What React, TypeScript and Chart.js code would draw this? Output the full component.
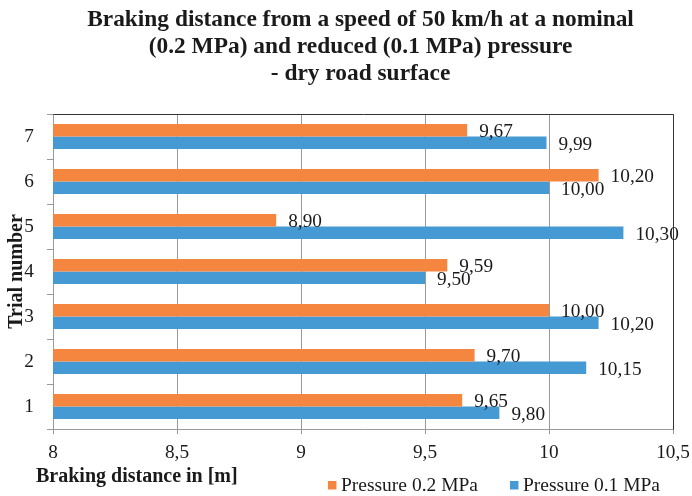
import React, { useEffect, useRef } from 'react';
import { Chart, registerables } from 'chart.js';

Chart.register(...registerables);

const TITLE_LINES = [
  'Braking distance from a speed of 50 km/h at a nominal',
  '(0.2 MPa) and reduced (0.1 MPa) pressure',
  '- dry road surface',
];
const TRIALS = ['1', '2', '3', '4', '5', '6', '7'];
const PRESSURE_02 = [9.65, 9.7, 10.0, 9.59, 8.9, 10.2, 9.67];
const PRESSURE_01 = [9.8, 10.15, 10.2, 9.5, 10.3, 10.0, 9.99];
const SERIES_NAMES = ['Pressure 0.2 MPa', 'Pressure 0.1 MPa'];
const X_TICKS = [8, 8.5, 9, 9.5, 10, 10.5];
const X_TITLE = 'Braking distance in [m]';
const Y_TITLE = 'Trial number';

const ORANGE = '#F4863F';
const BLUE = '#459AD4';
const SERIF = "'Liberation Serif', 'Times New Roman', serif";
const TEXT = '#1a1a1a';
const GRID = '#9a9a9a';

const fmt = (v: number, d: number) => v.toFixed(d).replace('.', ',');

const titlePlugin = {
  id: 'customTitle',
  afterDraw(chart: any) {
    const ctx = chart.ctx;
    ctx.save();
    ctx.font = `bold 23.4px ${SERIF}`;
    ctx.fillStyle = TEXT;
    ctx.textAlign = 'center';
    ctx.textBaseline = 'alphabetic';
    const cx = 360.5;
    TITLE_LINES.forEach((line, i) => {
      ctx.fillText(line, cx, 26 + i * 27);
    });
    ctx.restore();
  },
};

const framePlugin = {
  id: 'frame',
  afterDatasetsDraw(chart: any) {
    const ctx = chart.ctx;
    const ca = chart.chartArea;
    ctx.save();
    ctx.strokeStyle = '#333';
    ctx.lineWidth = 1;
    ctx.beginPath();
    ctx.moveTo(Math.round(ca.left) + 0.5, Math.round(ca.top) + 0.5);
    ctx.lineTo(Math.round(ca.right) + 0.5, Math.round(ca.top) + 0.5);
    ctx.lineTo(Math.round(ca.right) + 0.5, Math.round(ca.bottom) + 0.5);
    ctx.stroke();
    ctx.restore();
  },
};

const valueLabelPlugin = {
  id: 'valueLabels',
  afterDatasetsDraw(chart: any) {
    const ctx = chart.ctx;
    ctx.save();
    ctx.font = `19.3px ${SERIF}`;
    ctx.fillStyle = TEXT;
    ctx.textAlign = 'left';
    ctx.textBaseline = 'middle';
    chart.data.datasets.forEach((ds: any, di: number) => {
      const meta = chart.getDatasetMeta(di);
      meta.data.forEach((el: any, i: number) => {
        const v = ds.data[i] as number;
        ctx.fillText(fmt(v, 2), el.x + 12, el.y + 2);
      });
    });
    ctx.restore();
  },
};

const bottomPlugin = {
  id: 'bottomRow',
  afterDraw(chart: any) {
    const ctx = chart.ctx;
    const ca = chart.chartArea;
    ctx.save();
    // x-axis title
    ctx.font = `bold 20px ${SERIF}`;
    ctx.fillStyle = TEXT;
    ctx.textAlign = 'left';
    ctx.textBaseline = 'alphabetic';
    ctx.fillText(X_TITLE, ca.left - 17, 482);
    // legend
    ctx.font = `19.5px ${SERIF}`;
    const colors = chart.data.datasets.map((d: any) => d.backgroundColor);
    const names = chart.data.datasets.map((d: any) => d.label);
    const widths = names.map((n: string) => ctx.measureText(n).width);
    const box = 8.5;
    const gap = 4.5;
    const itemGap = 32;
    const total = widths.reduce((a: number, w: number) => a + box + gap + w, 0) + itemGap * (names.length - 1);
    let x = 660 - total;
    const base = 490.5;
    names.forEach((n: string, i: number) => {
      ctx.fillStyle = colors[i];
      ctx.fillRect(x, base - 9.5, box, box);
      ctx.fillStyle = TEXT;
      ctx.fillText(n, x + box + gap, base);
      x += box + gap + widths[i] + itemGap;
    });
    ctx.restore();
  },
};

export default function App() {
  const ref = useRef<HTMLCanvasElement | null>(null);

  useEffect(() => {
    if (!ref.current) return;
    const labels = [...TRIALS].reverse();
    const chart = new Chart(ref.current, {
      type: 'bar',
      data: {
        labels,
        datasets: [
          {
            label: SERIES_NAMES[0],
            data: [...PRESSURE_02].reverse(),
            backgroundColor: ORANGE,
            categoryPercentage: 0.56,
            barPercentage: 1,
          },
          {
            label: SERIES_NAMES[1],
            data: [...PRESSURE_01].reverse(),
            backgroundColor: BLUE,
            categoryPercentage: 0.56,
            barPercentage: 1,
          },
        ],
      },
      options: {
        indexAxis: 'y',
        animation: false,
        responsive: false,
        maintainAspectRatio: false,
        layout: { padding: { top: 114, bottom: 33, left: 0, right: 0 } },
        plugins: {
          legend: { display: false },
          title: { display: false },
          tooltip: { enabled: false },
        },
        scales: {
          x: {
            type: 'linear',
            min: 8,
            max: 10.5,
            afterBuildTicks: (scale: any) => {
              scale.ticks = X_TICKS.map((v) => ({ value: v }));
            },
            afterFit: (scale: any) => {
              scale.height = 34;
              scale.paddingRight = 19;
            },
            ticks: {
              font: { family: SERIF, size: 19.3 },
              color: TEXT,
              padding: 7,
              maxRotation: 0,
              callback: (v: any) => String(v).replace('.', ','),
            },
            grid: { color: GRID, tickLength: 5, drawTicks: true },
            border: { color: GRID },
          },
          y: {
            type: 'category',
            afterFit: (scale: any) => {
              scale.width = 53;
            },
            ticks: {
              font: { family: SERIF, size: 19.3 },
              color: TEXT,
              padding: 13,
            },
            grid: { drawOnChartArea: false, drawTicks: true, tickLength: 6, offset: true, color: GRID },
            border: { color: GRID },
            title: {
              display: true,
              text: Y_TITLE,
              font: { family: SERIF, size: 20, weight: 'bold', lineHeight: 1 },
              color: TEXT,
              padding: { top: 7, bottom: 0 },
            },
          },
        },
      },
      plugins: [titlePlugin, framePlugin, valueLabelPlugin, bottomPlugin],
    } as any);
    return () => chart.destroy();
  }, []);

  return (
    <div style={{ position: 'fixed', left: 0, top: 0, width: 692, height: 496, background: '#fff' }}>
      <canvas ref={ref} width={692} height={496} style={{ display: 'block', width: 692, height: 496 }} />
    </div>
  );
}
